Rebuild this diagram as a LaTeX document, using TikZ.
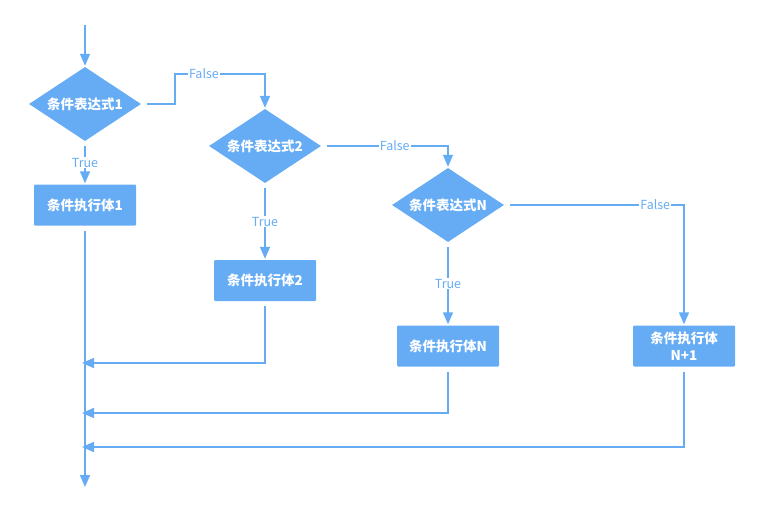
\documentclass[tikz,border=0pt]{standalone}
\usepackage{fontspec}
\setmainfont{Noto Sans CJK SC}
\usetikzlibrary{shapes.geometric, arrows.meta}
\definecolor{flowblue}{RGB}{102,172,245}
\tikzstyle{decision} = [diamond, aspect=1.5, minimum width=112pt, minimum height=74pt, inner sep=0pt, text centered, fill=flowblue, text=white, font=\fontsize{13.5}{15}\selectfont\bfseries]
\tikzstyle{block} = [rectangle, rounded corners=1pt, minimum width=102pt, minimum height=41pt, inner sep=0pt, align=center, fill=flowblue, text=white, font=\fontsize{13.5}{17}\selectfont\bfseries]
\tikzstyle{lbl} = [fill=white, text=flowblue, inner sep=1pt, font=\fontsize{12.5}{14}\selectfont]
\tikzstyle{arrow} = [draw=flowblue, line width=1.6pt, -{Triangle[length=12pt,width=10pt]}]

\begin{document}
\begin{tikzpicture}[x=1pt, y=-1pt]
            \useasboundingbox (0,0) rectangle (763,508);
            \coordinate (in) at (85,25);
            \node [decision] at (85,104) (c1) {条件表达式1};
            \node [block] at (85,205) (b1) {条件执行体1};
            \node [decision] at (265,146) (c2) {条件表达式2};
            \node [block] at (265,280.5) (b2) {条件执行体2};
            \node [decision] at (448,205) (cn) {条件表达式N};
            \node [block] at (448,346) (bn) {条件执行体N};
            \node [block] at (684,346) (bn1) {条件执行体\\N+1};
            \coordinate (m2) at (82,363);
            \coordinate (mn) at (82,413);
            \coordinate (mn1) at (82,447);
            \coordinate (out) at (85,487);
            \draw [arrow, shorten >=1pt] (in) -- (c1);
            \draw [arrow, shorten <=5pt, shorten >=1pt] (c1) -- node[lbl] {True} (b1);
            \draw [arrow, shorten <=6pt, shorten >=1pt] (c1.east) -- ++(34,0) -- ++(0,-30) -| node[lbl, pos=0.16] {False} (c2.north);
            \draw [arrow, shorten <=5pt, shorten >=1pt] (c2) -- node[lbl] {True} (b2);
            \draw [arrow, shorten <=6pt, shorten >=1pt] (c2.east) -| node[lbl, pos=0.29] {False} (cn.north);
            \draw [arrow, shorten <=5pt, shorten >=1pt] (cn) -- node[lbl] {True} (bn);
            \draw [arrow, shorten <=6pt, shorten >=1pt] (cn.east) -| node[lbl, pos=0.42] {False} (bn1.north);
            \draw [arrow, shorten <=5pt] (b2) |- (m2);
            \draw [arrow, shorten <=5pt] (bn) |- (mn);
            \draw [arrow, shorten <=5pt] (bn1) |- (mn1);
            \draw [arrow, shorten <=5pt] (b1) -- (out);
            \end{tikzpicture}
\end{document}
